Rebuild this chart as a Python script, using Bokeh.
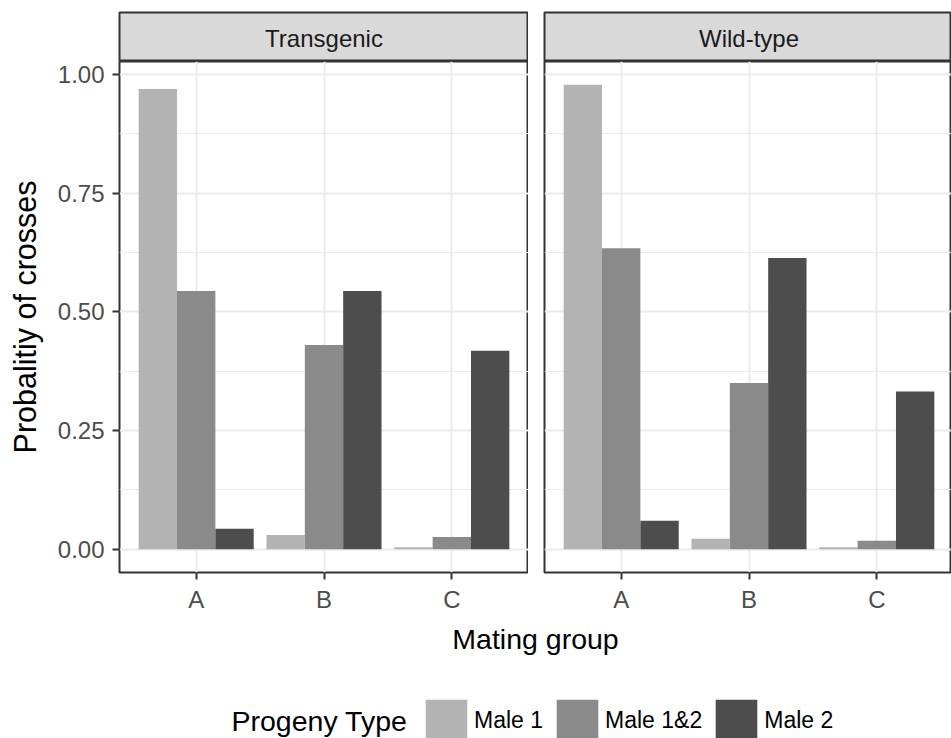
from bokeh.plotting import figure
from bokeh.layouts import column, row
from bokeh.models import (Range1d, FixedTicker, NumeralTickFormatter, Label,
                          Legend, LegendItem, ColumnDataSource)
from bokeh.transform import dodge
from bokeh.embed import file_html
from bokeh.resources import INLINE

# ---- data -------------------------------------------------------------
groups = ["A", "B", "C"]
progeny_types = ["Male 1", "Male 1&2", "Male 2"]

transgenic_male1 = [0.969, 0.030, 0.004]
transgenic_male12 = [0.544, 0.430, 0.026]
transgenic_male2 = [0.043, 0.544, 0.418]

wildtype_male1 = [0.978, 0.022, 0.004]
wildtype_male12 = [0.634, 0.350, 0.018]
wildtype_male2 = [0.060, 0.613, 0.332]

facet_names = ["Transgenic", "Wild-type"]
y_ticks = [0.0, 0.25, 0.5, 0.75, 1.0]
y_minor_ticks = [0.125, 0.375, 0.625, 0.875]

# ---- style ------------------------------------------------------------
fills = ["#B3B3B3", "#8A8A8A", "#4D4D4D"]
FONT = "Liberation Sans"
GRID = "#EBEBEB"
BORDER = "#333333"

PAGE_W = 951
LEFT_W = 119          # room for the y axis
FRAME_W = 409         # width of a full facet panel
GAP = 16              # space between the facets
STRIP_TOP = 12
STRIP_H = 49
PANEL_H = 511
PANEL_BOTTOM = 48
BOTTOM_H = 118
BOTTOM_Y0 = STRIP_TOP + STRIP_H + PANEL_H + PANEL_BOTTOM   # page y where the footer starts

series_by_facet = [
    [transgenic_male1, transgenic_male12, transgenic_male2],
    [wildtype_male1, wildtype_male12, wildtype_male2],
]

ymax = max(max(s) for series in series_by_facet for s in series)
y_range = Range1d(-0.05 * ymax, 1.05 * ymax)

# discrete x scale: group i sits at i + 1, panel spans 0.4 .. n + 0.6
x_lo = 0.4
x_span = len(groups) + 0.2
bar_w = 0.9 / len(progeny_types)
offsets = [(k - (len(progeny_types) - 1) / 2) * bar_w for k in range(len(progeny_types))]
x_pos = [i + 1 for i in range(len(groups))]


def make_facet(name, series, first):
    frame_w = FRAME_W if first else PAGE_W - LEFT_W - FRAME_W - GAP
    border_l = LEFT_W if first else GAP
    x_range = Range1d(x_lo, x_lo + x_span * frame_w / FRAME_W)

    # strip with the facet title
    strip = figure(width=border_l + frame_w, height=STRIP_TOP + STRIP_H,
                   x_range=x_range, y_range=Range1d(STRIP_TOP + STRIP_H, STRIP_TOP),
                   x_axis_location=None, y_axis_location=None,
                   toolbar_location=None, output_backend="svg",
                   min_border_left=border_l, min_border_right=0,
                   min_border_top=STRIP_TOP, min_border_bottom=0,
                   background_fill_color="#D9D9D9",
                   outline_line_color=BORDER, outline_line_width=2)
    strip.grid.visible = False
    strip.add_layout(Label(x=x_lo + x_span / 2, y=STRIP_TOP + 26, text=name,
                           text_align="center", text_baseline="alphabetic",
                           text_font=FONT, text_font_size="24px",
                           text_color="#1A1A1A"))

    # bar panel
    p = figure(width=border_l + frame_w, height=PANEL_H + PANEL_BOTTOM,
               x_range=x_range, y_range=y_range,
               y_axis_location="left" if first else None,
               toolbar_location=None, output_backend="svg",
               min_border_left=border_l, min_border_right=0,
               min_border_top=0, min_border_bottom=PANEL_BOTTOM,
               background_fill_color="white",
               outline_line_color=BORDER, outline_line_width=2)

    data = {"x": x_pos}
    for k, s in enumerate(series):
        data[f"s{k}"] = s
    src = ColumnDataSource(data)
    for k, color in enumerate(fills):
        p.vbar(x=dodge("x", offsets[k]), top=f"s{k}", bottom=0, width=bar_w,
               source=src, fill_color=color, line_color=None)

    # grid
    p.xgrid.ticker = FixedTicker(ticks=x_pos)
    p.ygrid.ticker = FixedTicker(ticks=y_ticks, minor_ticks=y_minor_ticks)
    p.grid.grid_line_color = GRID
    p.grid.grid_line_width = 2
    p.ygrid.minor_grid_line_color = GRID
    p.ygrid.minor_grid_line_width = 1.2

    # axes
    xa = p.xaxis[0]
    xa.ticker = FixedTicker(ticks=x_pos)
    xa.major_label_overrides = {x: g for x, g in zip(x_pos, groups)}
    xa.major_label_standoff = 6
    axes = [xa]
    if first:
        ya = p.yaxis[0]
        ya.ticker = FixedTicker(ticks=y_ticks)
        ya.formatter = NumeralTickFormatter(format="0.00")
        ya.axis_label = "Probalitiy of crosses"
        ya.axis_label_text_font = FONT
        ya.axis_label_text_font_size = "30.5px"
        ya.axis_label_text_font_style = "normal"
        ya.axis_label_text_color = "black"
        ya.axis_label_standoff = 13
        ya.major_label_standoff = 8
        axes.append(ya)
    for ax in axes:
        ax.axis_line_color = None
        ax.major_tick_line_color = BORDER
        ax.major_tick_line_width = 2
        ax.major_tick_in = 0
        ax.major_tick_out = 7
        ax.minor_tick_line_color = None
        ax.major_label_text_font = FONT
        ax.major_label_text_font_size = "24px"
        ax.major_label_text_color = "#4D4D4D"
    return strip, p, src


strips, panels, sources = [], [], []
for i, (name, series) in enumerate(zip(facet_names, series_by_facet)):
    s, p, src = make_facet(name, series, i == 0)
    strips.append(s)
    panels.append(p)
    sources.append(src)

# ---- shared x title and legend ---------------------------------------
bottom = figure(width=PAGE_W, height=BOTTOM_H,
                x_range=Range1d(0, PAGE_W),
                y_range=Range1d(BOTTOM_Y0 + BOTTOM_H, BOTTOM_Y0),
                x_axis_location=None, y_axis_location=None,
                toolbar_location=None, output_backend="svg",
                min_border=0, outline_line_color=None)
bottom.grid.visible = False

title_x = (LEFT_W + LEFT_W + 2 * FRAME_W + GAP) / 2 - 1
bottom.add_layout(Label(x=title_x, y=BOTTOM_Y0 + 18, text="Mating group",
                        text_align="center", text_baseline="alphabetic",
                        text_font=FONT, text_font_size="28.5px",
                        text_color="black"))
bottom.add_layout(Label(x=231, y=BOTTOM_Y0 + 100, text="Progeny Type",
                        text_align="left", text_baseline="alphabetic",
                        text_font=FONT, text_font_size="28.5px",
                        text_color="black"))

# legend entries reuse the bar series, hidden in the footer
items = []
for k, (name, color) in enumerate(zip(progeny_types, fills)):
    r = bottom.vbar(x="x", top=f"s{k}", bottom=0, width=bar_w, source=sources[0],
                    fill_color=color, line_color=None, visible=False)
    items.append(LegendItem(label=name, renderers=[r]))

legend = Legend(items=items, orientation="horizontal", location=(420, -8),
                glyph_width=52, glyph_height=52, padding=0, margin=0,
                spacing=8, label_standoff=2, click_policy="none",
                label_text_font=FONT, label_text_font_size="23px",
                label_text_color="black", border_line_color=None,
                background_fill_alpha=0)
bottom.add_layout(legend)

layout = column(row(*strips), row(*panels), bottom)

open("out.html", "w").write(file_html(layout, INLINE))
